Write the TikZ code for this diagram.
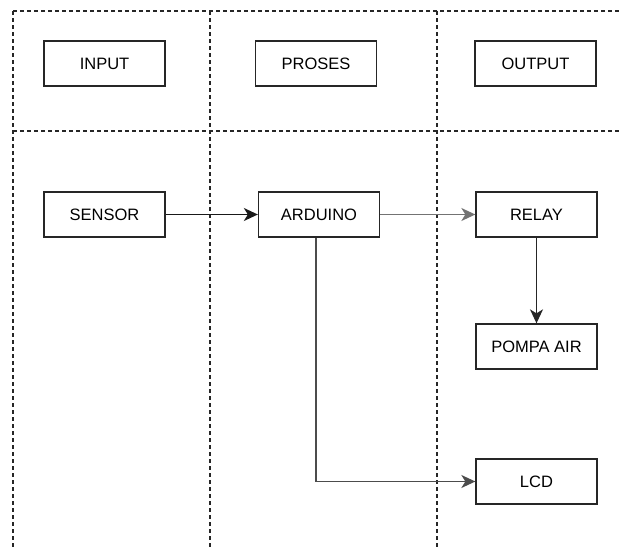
\documentclass[tikz,border=0pt]{standalone}
\usepackage{fontspec}
\setmainfont{Liberation Sans}
\usetikzlibrary{arrows.meta}
\begin{document}
\begin{tikzpicture}[x=1pt,y=-1pt,
  box/.style={draw=black!85,line width=1.3pt,fill=white,minimum width=121pt,minimum height=45pt,inner sep=0pt,font=\fontsize{16.5}{19}\selectfont},
  lane/.style={draw=black!85,line width=1.1pt,dash pattern=on 4pt off 3pt},
  conn/.style={line width=1.5pt,-{Stealth[length=14pt,width=13pt,inset=4pt]}}]
\useasboundingbox (0,0) rectangle (622,549);
\draw[lane] (13,11) -- (622,11);
\draw[lane] (13,131) -- (622,131);
\draw[lane] (13,11) -- (13,549);
\draw[lane] (210,11) -- (210,549);
\draw[lane] (437,11) -- (437,549);
\node[box] (input) at (104.5,63.5) {INPUT};
\node[box] (proses) at (316,63.5) {PROSES};
\node[box] (output) at (535.5,63.5) {OUTPUT};
\node[box] (sensor) at (104.5,214.5) {SENSOR};
\node[box] (arduino) at (319,214.5) {ARDUINO};
\node[box] (relay) at (536.5,214.5) {RELAY};
\node[box] (pompa) at (536.5,346.5) {POMPA AIR};
\node[box] (lcd) at (536.5,481.5) {LCD};
\draw[conn,draw=black!90] (sensor.east) -- (arduino.west);
\draw[conn,draw=black!55] (arduino.east) -- (relay.west);
\draw[conn,draw=black!70] ([xshift=-3pt]arduino.south) |- (lcd.west);
\draw[conn,draw=black!85] (relay.south) -- (pompa.north);
\end{tikzpicture}
\end{document}
